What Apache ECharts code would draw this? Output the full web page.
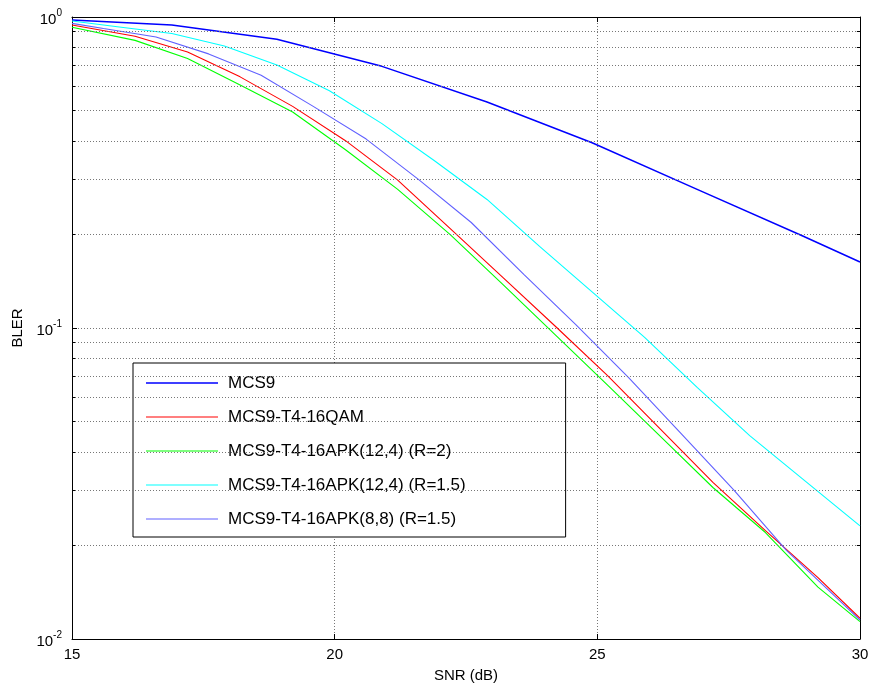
<!DOCTYPE html>
<html>
<head>
<meta charset="utf-8">
<script src="https://cdn.jsdelivr.net/npm/echarts@6/dist/echarts.min.js"></script>
<style>
html,body{margin:0;padding:0;background:#fff;}
#chart{width:872px;height:693px;}
</style>
</head>
<body>
<div id="chart"></div>
<script>
// ---- data ----
var seriesNames = ['MCS9', 'MCS9-T4-16QAM', 'MCS9-T4-16APK(12,4) (R=2)', 'MCS9-T4-16APK(12,4) (R=1.5)', 'MCS9-T4-16APK(8,8) (R=1.5)'];

var snrMCS9 = [15, 16.9, 18.9, 20.9, 22.9, 24.9, 26.9, 28.9, 30];
var blerMCS9 = [0.978, 0.943, 0.848, 0.694, 0.533, 0.394, 0.279, 0.198, 0.163];

var snrQAM = [15, 16.2, 17.2, 18.2, 19.2, 20.2, 21.2, 22.2, 23.2, 24.2, 25.2, 26.2, 27.2, 28.2, 29.2, 30];
var blerQAM = [0.943, 0.867, 0.772, 0.642, 0.516, 0.401, 0.299, 0.2086, 0.1454, 0.1013, 0.0702, 0.0473, 0.0319, 0.0223, 0.01575, 0.01166];

var snrAPK2 = [15, 16.2, 17.2, 18.2, 19.2, 20.2, 21.2, 22.2, 23.2, 24.2, 25.2, 26.2, 27.2, 28.2, 29.2, 30];
var blerAPK2 = [0.927, 0.841, 0.735, 0.604, 0.495, 0.375, 0.279, 0.1997, 0.1382, 0.0951, 0.0654, 0.0448, 0.0307, 0.0220, 0.01468, 0.01137];

var snrAPK15 = [15, 15.9, 16.9, 17.9, 18.9, 19.9, 20.9, 21.9, 22.9, 23.9, 24.9, 25.9, 26.9, 27.9, 28.9, 30];
var blerAPK15 = [0.971, 0.929, 0.885, 0.807, 0.701, 0.579, 0.454, 0.345, 0.259, 0.183, 0.1307, 0.0933, 0.0644, 0.0451, 0.0328, 0.0231];

var snrAPK88 = [15, 15.6, 16.6, 17.6, 18.6, 19.6, 20.6, 21.6, 22.6, 23.6, 24.6, 25.6, 26.6, 27.6, 28.6, 29.6, 30];
var blerAPK88 = [0.954, 0.918, 0.862, 0.761, 0.650, 0.515, 0.405, 0.300, 0.2184, 0.1488, 0.1022, 0.0691, 0.0457, 0.0301, 0.01926, 0.01333, 0.01151];

var xTicks = [15, 20, 25, 30];
var yMajor = [0.01, 0.1, 1];
var yMinor = [0.02, 0.03, 0.04, 0.05, 0.06, 0.07, 0.08, 0.09, 0.2, 0.3, 0.4, 0.5, 0.6, 0.7, 0.8, 0.9];

// ---- chart ----
var FONT = 'Liberation Sans, Arial, sans-serif';
function zip(xs, ys) { return xs.map(function (x, i) { return [x, ys[i]]; }); }

var colors = ['#0000ff', '#ff0000', '#00ff00', '#00ffff', '#6060ff'];
var widths = [1.5, 1.1, 1.1, 1.1, 1.1];
var dataSets = [zip(snrMCS9, blerMCS9), zip(snrQAM, blerQAM), zip(snrAPK2, blerAPK2), zip(snrAPK15, blerAPK15), zip(snrAPK88, blerAPK88)];

var gridStyle = { color: '#777', type: [1, 2], width: 1 };

var minorGrid = yMinor.map(function (v) { return { yAxis: v }; });
var minorTicks = [];
yMinor.forEach(function (v) {
  minorTicks.push([{ coord: [15, v] }, { coord: [15.06, v] }]);
  minorTicks.push([{ coord: [29.94, v] }, { coord: [30, v] }]);
});

// legend line icon: thin horizontal bar centred in a 72x20 box (tiny corner marks fix the bounding box)
function lineIcon(th) {
  var y0 = 10 - th / 2, y1 = 10 + th / 2;
  return 'path://M0,0L0.01,0L0.01,0.01Z M0,' + y0 + 'L72,' + y0 + 'L72,' + y1 + 'L0,' + y1 + 'Z M72,20L71.99,20L71.99,19.99Z';
}
var legendData = seriesNames.map(function (n, i) {
  return { name: n, icon: lineIcon(i === 0 ? 1.6 : 1.1), itemStyle: { color: colors[i] } };
});

var series = dataSets.map(function (d, i) {
  return {
    name: seriesNames[i], type: 'line', data: d, symbol: 'none', smooth: false,
    xAxisIndex: 0, yAxisIndex: 0, z: 3, clip: true,
    lineStyle: { color: colors[i], width: widths[i] }, itemStyle: { color: colors[i] }
  };
});
series.push({
  name: 'grid-helper', type: 'line', data: [[15, 1]], symbol: 'none', silent: true, z: 1,
  lineStyle: { opacity: 0 },
  markLine: { silent: true, symbol: 'none', label: { show: false }, animation: false,
    lineStyle: gridStyle, data: minorGrid }
});
series.push({
  name: 'tick-helper', type: 'line', data: [[15, 1]], symbol: 'none', silent: true, z: 4,
  lineStyle: { opacity: 0 },
  markLine: { silent: true, symbol: 'none', label: { show: false }, animation: false,
    lineStyle: { color: '#000', type: 'solid', width: 1 }, data: minorTicks }
});

var chart = echarts.init(document.getElementById('chart'), null, { renderer: 'canvas' });
chart.setOption({
  animation: false,
  backgroundColor: '#fff',
  textStyle: { fontFamily: FONT },
  grid: { left: 72, right: 12, top: 17, bottom: 54, show: false },
  legend: {
    data: legendData, orient: 'vertical', left: 133, top: 363,
    backgroundColor: '#fff', borderColor: '#000', borderWidth: 1, borderRadius: 0,
    padding: [10, 100, 8, 13],
    itemWidth: 72, itemHeight: 20, itemGap: 14,
    textStyle: { fontSize: 17, fontFamily: FONT, color: '#000', lineHeight: 20, padding: [0, 0, 0, 5] }
  },
  xAxis: [{
    type: 'value', min: 15, max: 30, interval: 5, position: 'bottom',
    name: 'SNR (dB)', nameLocation: 'middle', nameGap: 29,
    nameTextStyle: { fontSize: 15, fontFamily: FONT, color: '#000' },
    axisLine: { show: true, onZero: false, lineStyle: { color: '#000', width: 1 } },
    axisTick: { show: true, inside: true, length: 5, lineStyle: { color: '#000' } },
    axisLabel: { fontSize: 15, fontFamily: FONT, color: '#000', margin: 8,
      formatter: function (v) { return xTicks.indexOf(v) >= 0 ? String(v) : ''; } },
    splitLine: { show: true, lineStyle: gridStyle }
  }, {
    type: 'value', min: 15, max: 30, interval: 5, position: 'top',
    axisLine: { show: true, onZero: false, lineStyle: { color: '#000', width: 1 } },
    axisTick: { show: true, inside: true, length: 5, lineStyle: { color: '#000' } },
    axisLabel: { show: false }, splitLine: { show: false }
  }],
  yAxis: [{
    type: 'log', logBase: 10, min: 0.01, max: 1, position: 'left',
    name: 'BLER', nameLocation: 'middle', nameGap: 47, nameRotate: 90,
    nameTextStyle: { fontSize: 15, fontFamily: FONT, color: '#000' },
    axisLine: { show: true, onZero: false, lineStyle: { color: '#000', width: 1 } },
    axisTick: { show: true, inside: true, length: 5, lineStyle: { color: '#000' } },
    axisLabel: {
      margin: 10, color: '#000',
      formatter: function (v) {
        var e = Math.round(Math.log(v) / Math.LN10);
        return '{b|10}{s|' + e + '}';
      },
      rich: {
        b: { fontSize: 15, fontFamily: FONT, color: '#000', padding: [6, 0, 0, 0] },
        s: { fontSize: 10, fontFamily: FONT, color: '#000', padding: [0, 0, 8, 0] }
      }
    },
    splitLine: { show: true, lineStyle: gridStyle }
  }, {
    type: 'log', logBase: 10, min: 0.01, max: 1, position: 'right',
    axisLine: { show: true, onZero: false, lineStyle: { color: '#000', width: 1 } },
    axisTick: { show: true, inside: true, length: 5, lineStyle: { color: '#000' } },
    axisLabel: { show: false }, splitLine: { show: false }
  }],
  series: series
});
</script>
</body>
</html>
